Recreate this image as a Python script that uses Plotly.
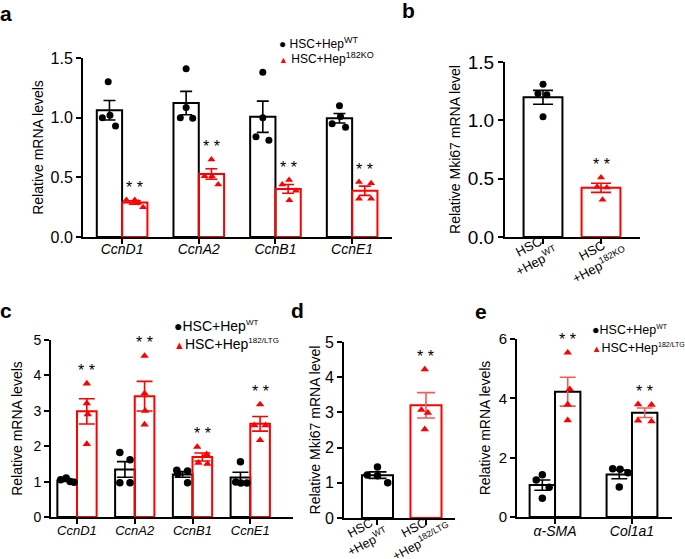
import numpy as np
import plotly.graph_objects as go

FONT = "Liberation Sans, Arial, Helvetica, sans-serif"
RED = "#ff0000"
LIGHTRED = "#f25a5a"
BLACK = "#000000"
W, H = 685, 559

# ---------------- data ----------------
A_GENES = ["CcnD1", "CcnA2", "CcnB1", "CcnE1"]
A_WT = [[1.30, 1.00, 1.02, 0.93], [1.41, 1.00, 1.085, 0.995],
        [1.38, 1.00, 0.84, 0.81], [1.10, 1.01, 0.95, 0.92]]
A_KO = [[0.31, 0.31, 0.29, 0.25], [0.65, 0.51, 0.51, 0.44],
        [0.44, 0.477, 0.387, 0.308], [0.46, 0.45, 0.32, 0.32]]

B_GROUPS = ["HSC<br>+Hep<sup>WT</sup>", "HSC<br>+Hep<sup>182KO</sup>"]
B_WT = [1.31, 1.23, 1.22, 1.03]
B_KO = [0.51, 0.43, 0.425, 0.32]

C_GENES = ["CcnD1", "CcnA2", "CcnB1", "CcnE1"]
C_WT = [[1.05, 1.10, 1.00, 0.98], [1.82, 1.62, 0.97, 0.97],
        [1.32, 1.30, 1.22, 0.97], [1.56, 0.99, 0.96, 0.96]]
C_LTG = [[3.77, 3.21, 2.90, 2.06], [4.55, 3.49, 3.00, 2.61],
         [1.98, 1.77, 1.53, 1.50], [3.18, 2.59, 2.59, 2.17]]

D_GROUPS = ["HSC<br>+Hep<sup>WT</sup>", "HSC<br>+Hep<sup>182/LTG</sup>"]
D_WT = [1.45, 1.22, 1.20, 1.00]
D_LTG = [4.22, 3.07, 2.99, 2.52]

E_GENES = ["α-SMA", "Col1a1"]
E_WT = [[1.25, 1.42, 1.00, 0.63], [1.63, 1.61, 1.49, 1.01]]
E_LTG = [[5.54, 4.31, 3.79, 3.26], [3.80, 3.78, 3.25, 3.22]]

LEGEND_A = [("HSC+Hep", "WT"), ("HSC+Hep", "182KO")]
LEGEND_C = [("HSC+Hep", "WT"), ("HSC+Hep", "182/LTG")]
LEGEND_E = [("HSC+Hep", "WT"), ("HSC+Hep", "182/LTG")]

Y_TITLE_GENES = "Relative mRNA levels"
Y_TITLE_MKI = "Relative Mki67 mRNA level"
SIG = "* *"

# ---------------- point spread (style: fraction of bar width) ----------------
A_WT_J = [[-0.05, -0.28, 0.02, 0.24], [0, -0.23, 0, 0.26], [0, 0, -0.27, 0.24], [0, 0.04, -0.29, 0.24]]
A_KO_J = [[-0.33, 0.0, 0.14, 0.33], [0, -0.27, 0.02, 0.27], [-0.23, 0.04, 0.31, 0.05], [-0.23, 0.25, -0.23, 0.25]]
B_WT_J = [[0, -0.13, 0.1, 0]]
B_KO_J = [[0, -0.1, 0.15, 0.04]]
C_WT_J = [[-0.33, -0.05, 0.15, 0.35], [-0.26, 0.26, -0.26, 0.26], [-0.3, 0.25, -0.25, 0.25], [0, -0.24, 0.02, 0.33]]
C_LTG_J = [[0, 0, 0.05, 0], [0, 0, 0.03, 0], [-0.26, 0.22, -0.2, 0.26], [0, -0.29, 0.28, 0]]
D_WT_J = [[0, -0.33, 0, 0.33]]
D_LTG_J = [[-0.04, -0.15, 0.06, -0.04]]
E_WT_J = [[-0.24, 0, 0.27, 0], [-0.26, 0.03, 0.34, 0]]
E_LTG_J = [[0, 0.08, 0, 0], [-0.26, 0.27, -0.26, 0.27]]

fig = go.Figure()
annotations = []


def fx(x):
    return x / W


def fy(y):
    return 1 - y / H


def mean_sem(groups):
    arr = [np.asarray(g, dtype=float) for g in groups]
    return [a.mean() for a in arr], [a.std(ddof=1) / np.sqrt(len(a)) for a in arr]


def add_series(xa, ya, groups, centers, width, jit, edge, errc, sym, msize, pcolor, capw):
    m, s = mean_sem(groups)
    fig.add_trace(go.Bar(
        x=centers, y=m, width=width, xaxis=xa, yaxis=ya,
        marker=dict(color="rgba(255,255,255,0)", line=dict(color=edge, width=2)),
        error_y=dict(type="data", array=s, visible=True, color=errc, thickness=1.6, width=capw),
        showlegend=False, hoverinfo="skip"))
    px, py = [], []
    for c, g, js in zip(centers, groups, jit):
        for v, j in zip(g, js):
            px.append(c + j * width)
            py.append(v)
    fig.add_trace(go.Scatter(
        x=px, y=py, mode="markers", xaxis=xa, yaxis=ya,
        marker=dict(symbol=sym, size=msize, color=pcolor, line=dict(width=0)),
        showlegend=False, hoverinfo="skip"))


def add_stars(xref, yref, groups, centers, size):
    for c, g in zip(centers, groups):
        annotations.append(dict(x=c, y=max(g), xref=xref, yref=yref, text=SIG, showarrow=False,
                                xanchor="center", yanchor="middle", yshift=13,
                                font=dict(family=FONT, size=size, color=BLACK)))


def xaxis(domain, rng, n, labels, anchor, fsize, italic=True, show=True, lstand=0):
    return dict(domain=domain, range=rng, anchor=anchor, tickmode="array",
                tickvals=list(range(n)), ticktext=labels, showticklabels=show,
                showline=True, linecolor=BLACK, linewidth=2, ticks="outside", ticklen=5,
                tickwidth=2, tickcolor=BLACK, showgrid=False, zeroline=False,
                automargin=False, ticklabelstandoff=lstand,
                tickfont=dict(family=FONT, size=fsize, color=BLACK,
                              style="italic" if italic else "normal"))


def yaxis(domain, rng, dtick, fmt, anchor, fsize, title, tsize, standoff):
    return dict(domain=domain, range=rng, anchor=anchor, dtick=dtick, tick0=0, tickformat=fmt,
                showline=True, linecolor=BLACK, linewidth=2, ticks="outside", ticklen=5,
                tickwidth=2, tickcolor=BLACK, showgrid=False, zeroline=False, automargin=False,
                tickfont=dict(family=FONT, size=fsize, color=BLACK),
                title=dict(text=title, font=dict(family=FONT, size=tsize, color=BLACK), standoff=standoff))


def dom_x(a, b):
    return [fx(a), fx(b)]


def dom_y(top, bottom):
    return [fy(bottom), fy(top)]


# ---------- panel a ----------
ca = list(range(len(A_GENES)))
add_series("x", "y", A_WT, [c - 0.165 for c in ca], 0.33, A_WT_J, BLACK, BLACK, "circle", 7, BLACK, 6)
add_series("x", "y", A_KO, [c + 0.165 for c in ca], 0.33, A_KO_J, RED, RED, "triangle-up", 7, RED, 6)
add_stars("x", "y", A_KO, [c + 0.165 for c in ca], 16)

# ---------- panel b ----------
add_series("x2", "y2", [B_WT], [0], 0.67, B_WT_J, BLACK, BLACK, "circle", 7, BLACK, 10)
add_series("x2", "y2", [B_KO], [1], 0.67, B_KO_J, RED, RED, "triangle-up", 7, RED, 10)
add_stars("x2", "y2", [B_KO], [1], 16)

# ---------- panel c ----------
cc = list(range(len(C_GENES)))
add_series("x3", "y3", C_WT, [c - 0.17 for c in cc], 0.34, C_WT_J, BLACK, BLACK, "circle", 7.5, BLACK, 8)
add_series("x3", "y3", C_LTG, [c + 0.17 for c in cc], 0.34, C_LTG_J, RED, RED, "triangle-up", 7.5, RED, 8)
add_stars("x3", "y3", C_LTG, [c + 0.17 for c in cc], 16)

# ---------- panel d ----------
add_series("x4", "y4", [D_WT], [0], 0.64, D_WT_J, BLACK, BLACK, "circle", 7.5, BLACK, 9)
add_series("x4", "y4", [D_LTG], [1], 0.64, D_LTG_J, RED, LIGHTRED, "triangle-up", 7.5, RED, 9)
add_stars("x4", "y4", [D_LTG], [1], 16)

# ---------- panel e ----------
ce = list(range(len(E_GENES)))
add_series("x5", "y5", E_WT, [c - 0.165 for c in ce], 0.33, E_WT_J, BLACK, BLACK, "circle", 7.5, BLACK, 8)
add_series("x5", "y5", E_LTG, [c + 0.165 for c in ce], 0.33, E_LTG_J, BLACK, LIGHTRED, "triangle-up", 7.5, RED, 8)
add_stars("x5", "y5", E_LTG, [c + 0.165 for c in ce], 16)

# ---------- rotated group labels for b and d ----------
for xref, labels, shifts, ys, fs in [("x2", B_GROUPS, [-10, -5], [254, 258], 13),
                                     ("x4", D_GROUPS, [-13, -8], [535, 535], 12.5)]:
    for i, (lab, sh, yy) in enumerate(zip(labels, shifts, ys)):
        annotations.append(dict(x=i, y=fy(yy), xref=xref, yref="paper", text=lab, showarrow=False,
                                xanchor="center", yanchor="middle", xshift=sh, textangle=-28,
                                align="center", font=dict(family=FONT, size=fs, color=BLACK)))

# ---------- panel letters ----------
for letter, (px_, py_) in zip("abcde", [(6, 13), (408, 10), (6, 310), (297, 310), (481, 311)]):
    annotations.append(dict(x=fx(px_), y=fy(py_), xref="paper", yref="paper", text=f"<b>{letter}</b>",
                            showarrow=False, xanchor="center", yanchor="middle",
                            font=dict(family=FONT, size=21, color=BLACK)))


# ---------- legends (marker glyph + label) ----------
def legend_rows(x_px, y_px, labels, gap, fsize, supsize, spacing):
    glyphs = [f"<span style='color:{BLACK};font-size:{fsize}px'>●</span>",
              f"<span style='color:{RED};font-size:{fsize - 3}px'>▲</span>"]
    for i, (g, (main, sup)) in enumerate(zip(glyphs, labels)):
        txt = f"{g}{gap}{main}<sup><span style='font-size:{supsize}px'>{sup}</span></sup>"
        annotations.append(dict(x=fx(x_px), y=fy(y_px + i * spacing), xref="paper", yref="paper",
                                text=txt, showarrow=False, xanchor="left", yanchor="middle",
                                font=dict(family=FONT, size=fsize, color=BLACK)))


legend_rows(277, 43, LEGEND_A, " ", 12, 9, 15)
legend_rows(172, 326, LEGEND_C, "", 14, 8, 18)
legend_rows(590, 330, LEGEND_E, "", 12.5, 7, 18)

fig.update_layout(
    width=W, height=H, margin=dict(l=0, r=0, t=0, b=0, autoexpand=False),
    paper_bgcolor="white", plot_bgcolor="white", barmode="overlay",
    font=dict(family=FONT, color=BLACK), showlegend=False,
    xaxis=xaxis(dom_x(83, 392), [-0.51, 3.52], 4, A_GENES, "y", 14, lstand=-7),
    yaxis=yaxis(dom_y(58, 237), [0, 1.5], 0.5, ".1f", "x", 16, Y_TITLE_GENES, 14, 4),
    xaxis2=xaxis(dom_x(505, 640), [-0.655, 1.672], 2, B_GROUPS, "y2", 13, italic=False, show=False),
    yaxis2=yaxis(dom_y(62, 237), [0, 1.5], 0.5, ".1f", "x2", 19, Y_TITLE_MKI, 14, 4),
    xaxis3=xaxis(dom_x(51, 293), [-0.45, 3.74], 4, C_GENES, "y3", 13, lstand=-5),
    yaxis3=yaxis(dom_y(340, 517), [0, 5], 1, "d", "x3", 14, Y_TITLE_GENES, 14, 8),
    xaxis4=xaxis(dom_x(344, 455), [-0.69, 1.598], 2, D_GROUPS, "y4", 13, italic=False, show=False),
    yaxis4=yaxis(dom_y(342, 518), [0, 5], 1, "d", "x4", 16, Y_TITLE_MKI, 14, 1),
    xaxis5=xaxis(dom_x(517, 672), [-0.494, 1.52], 2, E_GENES, "y5", 14, lstand=-5),
    yaxis5=yaxis(dom_y(339, 517), [0, 6], 2, "d", "x5", 15, Y_TITLE_GENES, 14, 5),
    annotations=annotations,
)

# the page's default 8px body margin would shift the whole figure; remove it
fig.write_html("out.html", config={"displayModeBar": False, "staticPlot": True},
               post_script="document.body.style.margin='0px';")
